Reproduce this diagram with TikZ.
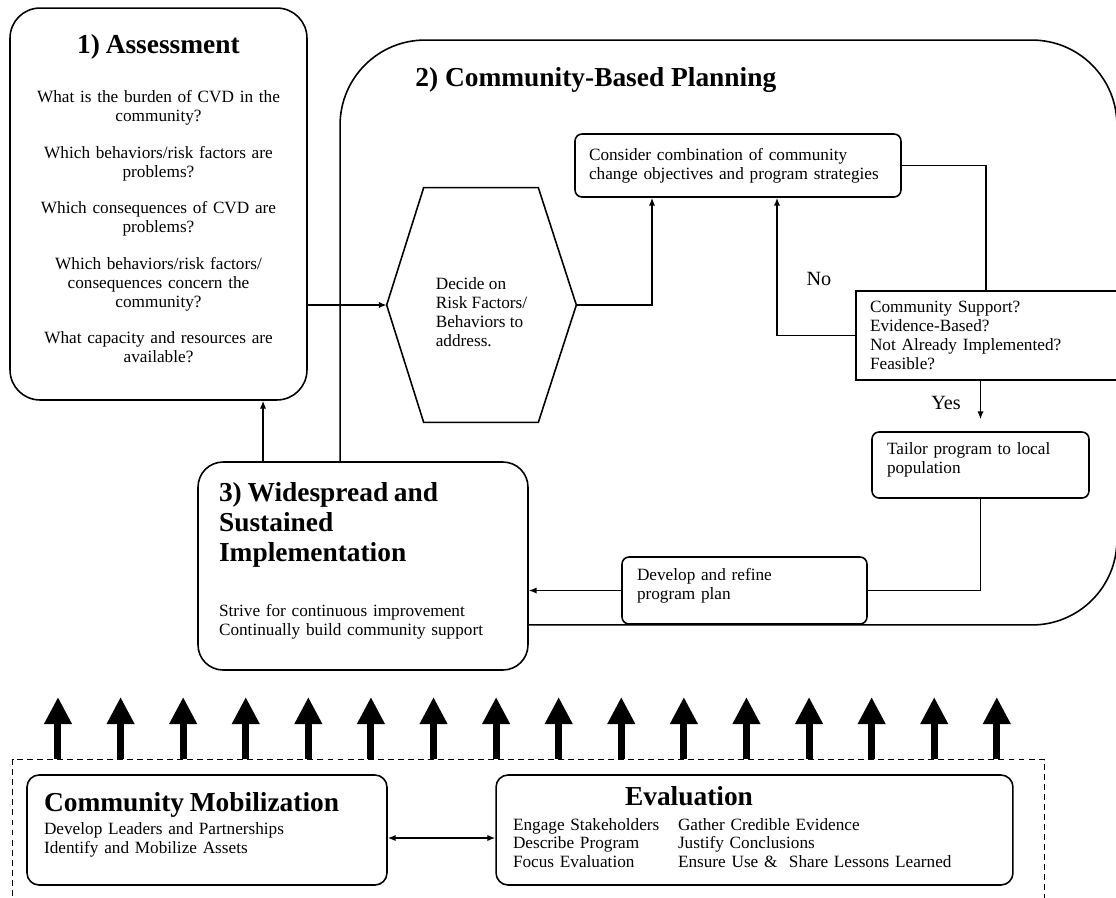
\documentclass[tikz,border=0pt]{standalone}
\usepackage{fontspec}
\setmainfont{Liberation Serif}
\usetikzlibrary{arrows.meta, positioning}

\newcommand{\hdfont}{\fontsize{15.6}{17}\selectfont\bfseries}
\newcommand{\bodyfont}{\fontsize{9.8}{10.8}\selectfont}
% empty last line: pushes the text block of a box upwards
\newcommand{\lift}[1]{\\[#1]\mbox{}}

\begin{document}
\begin{tikzpicture}[
    x=0.02cm, y=-0.02cm,
    every node/.style={inner sep=0pt, font=\bodyfont},
    box/.style={draw, line width=0.9pt, rounded corners=0.14cm, align=left, inner xsep=0.3cm, fill=white},
    bigbox/.style={box, rounded corners=0.55cm},
    line/.style={draw, line width=0.8pt},
    arr/.style={line, -{Latex[length=4.5pt,width=3.6pt]}},
    dblarr/.style={line, {Latex[length=4.5pt,width=3.6pt]}-{Latex[length=4.5pt,width=3.6pt]}},
    bigarr/.style={line width=0.14cm, -{Triangle[length=0.54cm,width=0.52cm]}},
    lbl/.style={font=\fontsize{11.5}{13}\selectfont}
]
\useasboundingbox (0,0) rectangle (1116,897);

% -------- 2) Community-based planning frame --------
\node[draw, line width=0.9pt, rounded corners=1.7cm, minimum width=15.54cm, minimum height=11.7cm] (plan) at (728.5,332.5) {};
\node[anchor=west, font=\hdfont] (plantitle) at (415,80) {2) Community-Based Planning};

% -------- 1) Assessment --------
\node[bigbox, align=center, rounded corners=0.6cm, text width=5.34cm, minimum width=5.94cm, minimum height=7.84cm] (assess) at (158.5,204)
  {{\hdfont 1) Assessment}\\[17.5pt]
   What is the burden of CVD in the\\community?\\[10pt]
   Which behaviors/risk factors are\\problems?\\[10pt]
   Which consequences of CVD are\\problems?\\[10pt]
   Which behaviors/risk factors/\\consequences concern the\\community?\\[10pt]
   What capacity and resources are\\available?\lift{-4.5pt}};

% -------- Planning steps --------
\node[minimum width=3.78cm, minimum height=4.68cm] (hex) at (481.5,305) {};
\draw[line width=0.9pt] (hex.west) -- ([xshift=0.74cm]hex.north west) -- ([xshift=-0.76cm]hex.north east)
  -- (hex.east) -- ([xshift=-0.76cm]hex.south east) -- ([xshift=0.74cm]hex.south west) -- cycle;
\node[align=left] (hextext) at ([yshift=-0.14cm]hex.center) {Decide on\\Risk Factors/\\Behaviors to\\address.};

\node[box, inner xsep=0.28cm, text width=5.96cm, minimum width=6.52cm, minimum height=1.26cm] (cons) at (738,165.5)
  {Consider combination of community\\change objectives and program strategies};
\node[draw, line width=0.9pt, fill=white, align=left, inner xsep=0.28cm, text width=4.82cm, minimum width=5.38cm, minimum height=1.78cm] (dec) at (990.5,335.5)
  {Community Support?\\Evidence-Based?\\Not Already Implemented?\\Feasible?};
\node[box, text width=3.74cm, minimum width=4.34cm, minimum height=1.32cm] (tail) at (980.5,465)
  {Tailor program to local\\population\lift{-3pt}};
\node[box, text width=4.3cm, minimum width=4.9cm, minimum height=1.34cm] (dev) at (744.5,590.5)
  {Develop and refine\\program plan\lift{-3pt}};

% -------- 3) Widespread and sustained implementation --------
\node[bigbox, rounded corners=0.5cm, inner xsep=0.42cm, text width=5.76cm, minimum width=6.6cm, minimum height=4.16cm] (wide) at (363,566)
  {{\hdfont 3) Widespread and}\\[1.8pt]{\hdfont Sustained}\\[5.2pt]{\hdfont Implementation}\\[20.5pt]
   Strive for continuous improvement\\Continually build community support\lift{-2.5pt}};

% -------- Flow --------
\draw[arr] (assess.east |- hex.west) -- (hex.west);
\draw[arr] (hex.east) -| ([xshift=-1.72cm]cons.south);
\draw[line] (cons.east) -| ([xshift=-0.09cm]dec.north);
\draw[arr] (dec.west) -| ([xshift=0.78cm]cons.south);
\draw[arr, shorten >=0.24cm] (dec.south -| tail.north) -- (tail.north);
\draw[line] (tail.south) |- (dev.east);
\draw[arr] (dev.west) -- (wide.east |- dev.west);
\coordinate (wideup) at ([xshift=-2cm]wide.north);
\draw[arr] (wideup) -- (wideup |- assess.south);

\node[lbl] (nolbl) at (819,279) {No};
\node[lbl] (yeslbl) at (946,403) {Yes};

% -------- Foundation: mobilization + evaluation --------
\node[draw, line width=0.8pt, dash pattern=on 3.4pt off 2.3pt, minimum width=20.64cm, minimum height=3.4cm, anchor=north west] (frame) at (12,759) {};
\node[box, rounded corners=0.24cm, inner xsep=0.34cm, text width=6.52cm, minimum width=7.2cm, minimum height=2.2cm] (mob) at (207,830)
  {{\hdfont Community Mobilization}\\[2.5pt]
   Develop Leaders and Partnerships\\Identify and Mobilize Assets\lift{-3pt}};
\node[box, rounded corners=0.24cm, inner xsep=0.34cm, text width=9.66cm, minimum width=10.34cm, minimum height=2.2cm] (eval) at (754.5,830)
  {\hspace*{2.24cm}{\hdfont Evaluation}\\[3.2pt]
   \begin{tabular}[t]{@{}p{3.3cm}@{}l@{}}
   Engage Stakeholders & Gather Credible Evidence\\
   Describe Program & Justify Conclusions\\
   Focus Evaluation & Ensure Use \&\ \ Share Lessons Learned
   \end{tabular}};
\coordinate (mobr) at ([yshift=-0.16cm]mob.east);
\draw[dblarr] (mobr) -- (mobr -| eval.west);

\foreach \i in {0,...,15}
  \draw[bigarr] ([xshift=0.92cm+\i*1.252cm]frame.north west) -- ++(0,-62);

\end{tikzpicture}
\end{document}
